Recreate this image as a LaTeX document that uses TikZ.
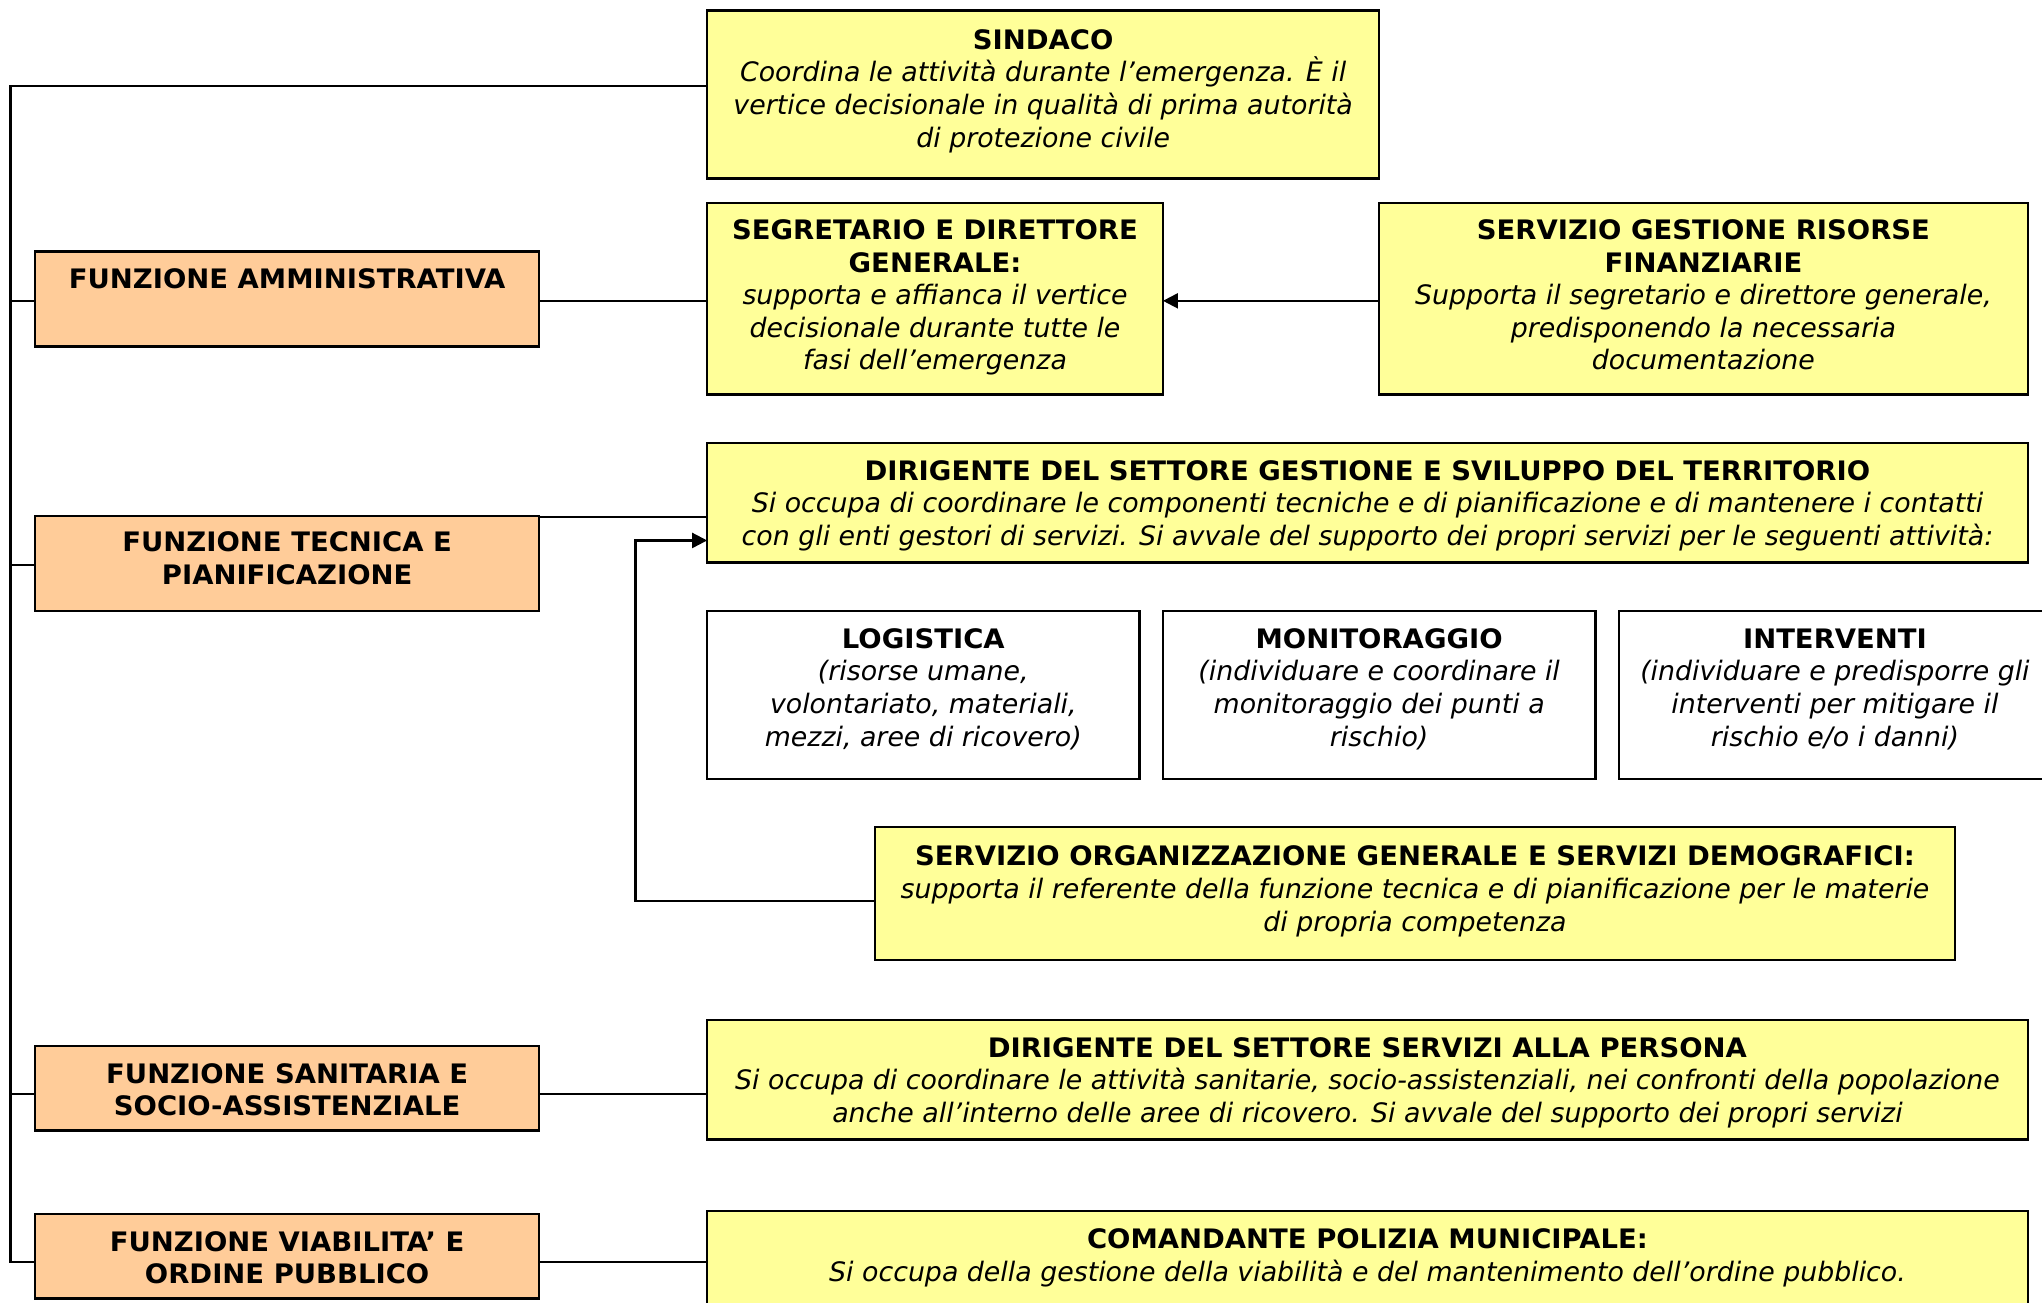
\documentclass[tikz,border=0pt]{standalone}
\usepackage{fontspec}
\setmainfont{DejaVu Sans}[BoldFeatures={FakeStretch=1.025}]
\usetikzlibrary{arrows.meta,calc}
\definecolor{ylw}{HTML}{FFFF99}
\definecolor{org}{HTML}{FFCC99}
\newcommand\boxfont{\fontsize{13.4}{16.3}\selectfont\lineskiplimit-20pt\relax}
\tikzset{
 bx/.style={draw=black, line width=1.2pt, inner sep=0pt, outer sep=0pt, anchor=north west},
 ybx/.style={bx, fill=ylw},
 obx/.style={bx, fill=org},
 wbx/.style={bx, fill=white},
 txt/.style={inner sep=0pt, align=center, anchor=north, font=\boxfont},
 ln/.style={line width=1.1pt},
 arr/.style={ln, -{Triangle[length=7.5pt,width=7.5pt]}},
}
\newcommand\mkbox[6]{\node[#2, minimum width={(#5-#3)*0.65115pt}, minimum height={(#6-#4)*0.65115pt}] (#1) at (#3,#4) {};}
\begin{document}
\begin{tikzpicture}[x=0.65115pt, y=-0.65115pt]
\useasboundingbox (0,0) rectangle (1568,1000);
\clip (0,0) rectangle (1568,1000);
% boxes
\mkbox{SIN}{ybx}{543}{8}{1059}{137}
\mkbox{FA}{obx}{27}{193}{414}{266}
\mkbox{SEG}{ybx}{543}{156}{893}{303}
\mkbox{SGRF}{ybx}{1059}{156}{1557}{303}
\mkbox{FT}{obx}{27}{396}{414}{469}
\mkbox{DIRA}{ybx}{543}{340}{1557}{432}
\mkbox{LOG}{wbx}{543}{469}{875}{598}
\mkbox{MON}{wbx}{893}{469}{1225}{598}
\mkbox{INT}{wbx}{1243}{469}{1575}{598}
\mkbox{SOG}{ybx}{672}{635}{1501}{737}
\mkbox{FS}{obx}{27}{803}{414}{868}
\mkbox{DIRB}{ybx}{543}{783}{1557}{875}
\mkbox{FV}{obx}{27}{932}{414}{997}
\mkbox{COM}{ybx}{543}{930}{1557}{1012}
% texts
\node[txt] (SIN-t) at (801,20) {\strut\textbf{SINDACO}\\\textit{Coordina le attività durante l’emergenza. È il}\\\textit{vertice decisionale in qualità di prima autorità}\\\textit{di protezione civile}};
\node[txt] (FA-t) at (220.5,204) {\strut\textbf{FUNZIONE AMMINISTRATIVA}};
\node[txt] (SEG-t) at (718,166) {\strut\textbf{SEGRETARIO E DIRETTORE}\\\textbf{GENERALE:}\\\textit{supporta e affianca il vertice}\\\textit{decisionale durante tutte le}\\\textit{fasi dell’emergenza}};
\node[txt] (SGRF-t) at (1308,166) {\strut\textbf{SERVIZIO GESTIONE RISORSE}\\\textbf{FINANZIARIE}\\\textit{Supporta il segretario e direttore generale,}\\\textit{predisponendo la necessaria}\\\textit{documentazione}};
\node[txt] (FT-t) at (220.5,406) {\strut\textbf{FUNZIONE TECNICA E}\\\textbf{PIANIFICAZIONE}};
\node[txt] (DIRA-t) at (1050,351) {\strut\textbf{DIRIGENTE DEL SETTORE GESTIONE E SVILUPPO DEL TERRITORIO}\\\textit{Si occupa di coordinare le componenti tecniche e di pianificazione e di mantenere i contatti}\\\textit{con gli enti gestori di servizi. Si avvale del supporto dei propri servizi per le seguenti attività:}};
\node[txt] (LOG-t) at (709,480) {\strut\textbf{LOGISTICA}\\\textit{(risorse umane,}\\\textit{volontariato, materiali,}\\\textit{mezzi, aree di ricovero)}};
\node[txt] (MON-t) at (1059,480) {\strut\textbf{MONITORAGGIO}\\\textit{(individuare e coordinare il}\\\textit{monitoraggio dei punti a}\\\textit{rischio)}};
\node[txt] (INT-t) at (1409,480) {\strut\textbf{INTERVENTI}\\\textit{(individuare e predisporre gli}\\\textit{interventi per mitigare il}\\\textit{rischio e/o i danni)}};
\node[txt] (SOG-t) at (1086.5,647) {\strut\textbf{SERVIZIO ORGANIZZAZIONE GENERALE E SERVIZI DEMOGRAFICI:}\\\textit{supporta il referente della funzione tecnica e di pianificazione per le materie}\\\textit{di propria competenza}};
\node[txt] (FS-t) at (220.5,814) {\strut\textbf{FUNZIONE SANITARIA E}\\\textbf{SOCIO-ASSISTENZIALE}};
\node[txt] (DIRB-t) at (1050,794) {\strut\textbf{DIRIGENTE DEL SETTORE SERVIZI ALLA PERSONA}\\\textit{Si occupa di coordinare le attività sanitarie, socio-assistenziali, nei confronti della popolazione}\\\textit{anche all’interno delle aree di ricovero. Si avvale del supporto dei propri servizi}};
\node[txt] (FV-t) at (220.5,943) {\strut\textbf{FUNZIONE VIABILITA’ E}\\\textbf{ORDINE PUBBLICO}};
\node[txt] (COM-t) at (1050,941) {\strut\textbf{COMANDANTE POLIZIA MUNICIPALE:}\\\textit{Si occupa della gestione della viabilità e del mantenimento dell’ordine pubblico.}};
% connectors
\coordinate (b0) at (8,66);
\coordinate (b1) at (8,231);
\coordinate (b2) at (8,434);
\coordinate (b3) at (8,840);
\coordinate (b4) at (8,969);
\coordinate (r2) at (414,397);
\coordinate (k1) at (488,692);
\coordinate (k2) at (488,415);
\draw[ln] (b0 -| SIN.west) -- (b0) -- (b4) -- (b4 -| FV.west);
\draw[ln] (b1) -- (b1 -| FA.west);
\draw[ln] (b2) -- (b2 -| FT.west);
\draw[ln] (b3) -- (b3 -| FS.west);
\draw[ln] (b1 -| FA.east) -- (b1 -| SEG.west);
\draw[arr] (b1 -| SGRF.west) -- (b1 -| SEG.east);
\draw[ln] (r2 -| FT.east) -- (r2 -| DIRA.west);
\draw[arr] (k1 -| SOG.west) -- (k1) -- (k2) -- (k2 -| DIRA.west);
\draw[ln] (b3 -| FS.east) -- (b3 -| DIRB.west);
\draw[ln] (b4 -| FV.east) -- (b4 -| COM.west);
\end{tikzpicture}
\end{document}
